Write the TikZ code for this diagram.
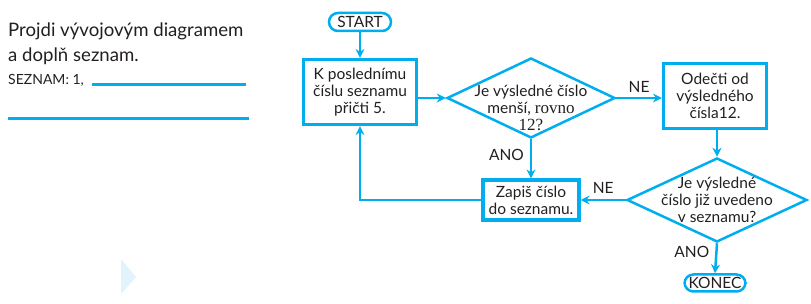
\documentclass[tikz,border=0pt]{standalone}
\usepackage{fontspec}
\setmainfont{Lato}
\newfontfamily\serifnum[Scale=1.1]{Liberation Serif}
\usetikzlibrary{arrows.meta,shapes.geometric}
\definecolor{cy}{HTML}{00AEEF}
\definecolor{tx}{HTML}{231F20}
\definecolor{tri}{HTML}{E1F3FC}
\begin{document}
\begin{tikzpicture}[x=1pt,y=-1pt,
  every node/.style={text=tx, font=\fontsize{15.5}{17}\selectfont},
  boxnode/.style={draw=cy, line width=3.2pt, align=center, inner sep=0pt},
  termnode/.style={draw=cy, line width=2.5pt, rounded corners=9pt, inner sep=0pt, align=center},
  decnode/.style={draw=cy, line width=2.5pt, diamond, inner sep=0pt},
  lbl/.style={align=center, inner sep=0pt},
  conn/.style={draw=cy, line width=2.5pt},
  arr/.style={conn, -{Stealth[length=9pt, width=9pt, inset=3pt]}},
]
\useasboundingbox (0,0) rectangle (811,304);

% left task text
\node[anchor=base west, inner sep=0pt, font=\fontsize{18.6}{20}\selectfont] (t1) at (8,37) {Projdi vývojovým diagramem};
\node[anchor=base west, inner sep=0pt, font=\fontsize{18.6}{20}\selectfont] (t2) at (8,62) {a doplň seznam.};
\node[anchor=base west, inner sep=0pt, font=\fontsize{14}{16}\selectfont] (t3) at (8,85) {SEZNAM: 1,};
\coordinate (l1a) at (92,85); \coordinate (l1b) at (246,85);
\coordinate (l2a) at (8,119); \coordinate (l2b) at (249,119);
\draw[draw=cy, line width=3pt] (l1a) -- (l1b);
\draw[draw=cy, line width=3pt] (l2a) -- (l2b);

% decorative triangle
\fill[tri] (121,259) -- (136,277) -- (121,294) -- cycle;

% nodes
\node[termnode, minimum width=62pt, minimum height=18pt] (start) at (360,22) {START};
\node[boxnode, minimum width=113pt, minimum height=65pt] (b1) at (360,92) {K poslednímu\\číslu seznamu\\přičti 5.};
\node[decnode, minimum width=168pt, minimum height=80pt] (d1) at (531,98) {};
\node[lbl] (d1t) at (531,108) {Je výsledné číslo\\menší, {\serifnum rovno}\\{\serifnum 12?}};
\node[boxnode, minimum width=103pt, minimum height=65pt] (b2) at (715,96) {Odečti od\\výsledného\\čísla12.};
\node[decnode, minimum width=180pt, minimum height=84pt] (d2) at (717,200) {};
\node[lbl] (d2t) at (717,200) {Je výsledné\\číslo již uvedeno\\v seznamu?};
\node[boxnode, minimum width=96pt, minimum height=40pt] (b3) at (531,200) {Zapiš číslo\\do seznamu.};
\node[termnode, minimum width=61pt, minimum height=17pt] (end) at (715,283) {KONEC};

% connectors
\draw[arr] (start) -- (b1);
\draw[arr] (b1.east |- d1.west) -- (d1.west);
\draw[arr] (d1.east) -- node[above, inner sep=4pt] {NE} (d1.east -| b2.west);
\draw[arr] (b2.south -| d2.north) -- (d2.north);
\draw[arr] (d1.south) -- node[left, pos=0.4, inner sep=6pt] {ANO} (b3.north);
\draw[arr] (d2.west) -- node[above, inner sep=5pt] {NE} (b3.east |- d2.west);
\draw[arr] (d2.south) -- node[left, pos=0.3, inner sep=6pt] {ANO} (end.north);
\draw[arr] (b3.west) -| (b1.south);
\end{tikzpicture}
\end{document}
